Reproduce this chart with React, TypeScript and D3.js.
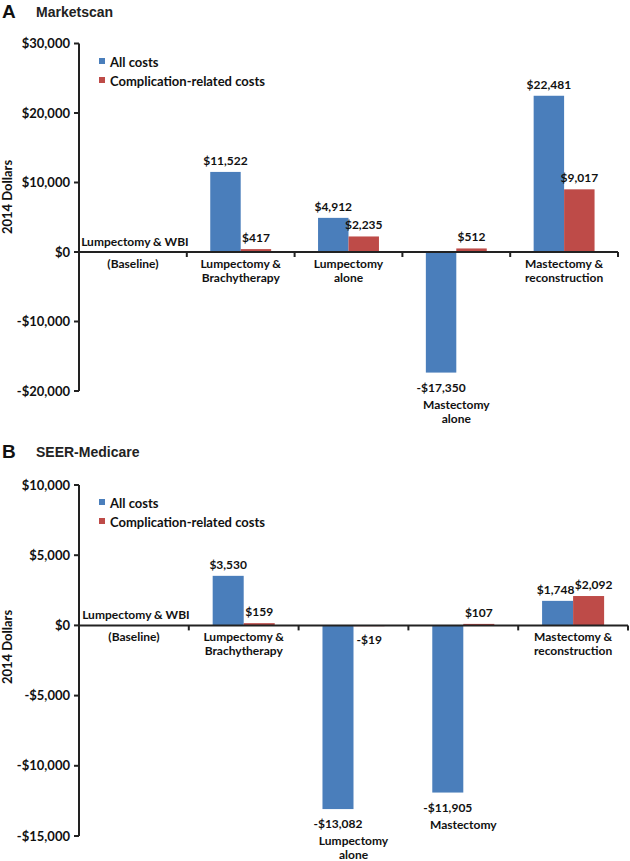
import React from "react";
import * as d3 from "d3";

const categoriesA = [
  ["Lumpectomy & WBI", "(Baseline)"],
  ["Lumpectomy &", "Brachytherapy"],
  ["Lumpectomy", "alone"],
  ["Mastectomy", "alone"],
  ["Mastectomy &", "reconstruction"],
];
const allCostsA = [0, 11522, 4912, -17350, 22481];
const compCostsA = [0, 417, 2235, 512, 9017];
const ticksA = [30000, 20000, 10000, 0, -10000, -20000];

const categoriesB = [
  ["Lumpectomy & WBI", "(Baseline)"],
  ["Lumpectomy &", "Brachytherapy"],
  ["Lumpectomy", "alone"],
  ["Mastectomy"],
  ["Mastectomy &", "reconstruction"],
];
const allCostsB = [0, 3530, -13082, -11905, 1748];
const compCostsB = [0, 159, -19, 107, 2092];
const ticksB = [10000, 5000, 0, -5000, -10000, -15000];

const seriesNames = ["All costs", "Complication-related costs"];
const BLUE = "#4a7ebb";
const RED = "#be4b48";
const FONT = "Lato, 'Open Sans', sans-serif";

const fmt = (v: number) => {
  const s = d3.format(",")(Math.abs(v));
  return (v < 0 ? "-$" : "$") + s;
};

type PanelProps = {
  letter: string;
  title: string;
  categories: string[][];
  all: number[];
  comp: number[];
  ticks: number[];
  yDomain: [number, number];
  yRange: [number, number];
  xRange: [number, number];
  titleY: number;
  legendY: number;
  yTitleY: number;
};

function Panel(p: PanelProps) {
  const x = d3
    .scaleBand<number>()
    .domain(p.categories.map((_, i) => i))
    .range(p.xRange)
    .paddingInner(0)
    .paddingOuter(0);
  const bw = x.bandwidth();
  const sub = d3
    .scaleBand<number>()
    .domain([0, 1])
    .range([bw * 0.2175, bw * 0.7825])
    .padding(0);
  const y = d3.scaleLinear().domain(p.yDomain).range(p.yRange);
  const y0 = y(0);
  const series = [p.all, p.comp];
  const colors = [BLUE, RED];
  const axisX = p.xRange[0];

  return (
    <g>
      <text x={2} y={p.titleY} fontFamily="Arial, 'Liberation Sans', sans-serif" fontWeight="bold" fontSize={19} fill="#111">
        {p.letter}
      </text>
      <text x={36} y={p.titleY - 1} fontFamily="Arial, 'Liberation Sans', sans-serif" fontWeight="bold" fontSize={14} fill="#222">
        {p.title}
      </text>
      {seriesNames.map((n, i) => (
        <g key={n}>
          <rect x={99} y={p.legendY + i * 19 - 4} width={6} height={6} fill={colors[i]} />
          <text x={110} y={p.legendY + i * 19 + 4.5} fontFamily={FONT} fontWeight="bold" fontSize={13} fill="#111">
            {n}
          </text>
        </g>
      ))}
      <text
        transform={`translate(12,${p.yTitleY}) rotate(-90)`}
        textAnchor="middle"
        fontFamily={FONT}
        fontWeight="bold"
        fontSize={13}
        fill="#111"
      >
        2014 Dollars
      </text>
      {series.map((vals, si) =>
        vals.map((v, ci) => {
          if (v === 0) return null;
          const bx = (x(ci) as number) + (sub(si) as number);
          const top = Math.min(y(v), y0);
          const h = Math.max(Math.abs(y(v) - y0), 0.8);
          return <rect key={`${si}-${ci}`} x={bx} y={top} width={sub.bandwidth()} height={h} fill={colors[si]} />;
        })
      )}
      {series.map((vals, si) =>
        vals.map((v, ci) => {
          if (v === 0) return null;
          const cx = (x(ci) as number) + (sub(si) as number) + sub.bandwidth() / 2;
          let ly: number;
          let lx = cx;
          let anchor: "middle" | "start" = "middle";
          if (v > 0) {
            ly = y(v) - 7;
            const other = series[1 - si][ci];
            if (other > 0 && Math.abs(y(other) - y(v)) < 12) lx += si === 0 ? -2 : 5;
          } else if (y(v) - y0 > 10) ly = y(v) + 19;
          else {
            ly = y0 + 19;
            lx = (x(ci) as number) + (sub(si) as number) + 3;
            anchor = "start";
          }
          return (
            <text key={`l${si}-${ci}`} x={lx} y={ly} textAnchor={anchor} fontFamily={FONT} fontWeight="bold" fontSize={12} fill="#111">
              {fmt(v)}
            </text>
          );
        })
      )}
      <line x1={axisX} x2={axisX} y1={y(p.yDomain[1])} y2={y(p.yDomain[0])} stroke="#222" strokeWidth={2} />
      {p.ticks.map((t) => (
        <g key={t}>
          <line x1={axisX - 5} x2={axisX} y1={y(t)} y2={y(t)} stroke="#222" strokeWidth={2} />
          <text x={axisX - 9} y={y(t) + 4.5} textAnchor="end" fontFamily={FONT} fontWeight="bold" fontSize={13} fill="#111">
            {fmt(t)}
          </text>
        </g>
      ))}
      <line x1={axisX} x2={p.xRange[1]} y1={y0} y2={y0} stroke="#222" strokeWidth={2} />
      {p.categories.map((_, i) => (
        <line key={i} x1={(x(i) as number) + bw} x2={(x(i) as number) + bw} y1={y0} y2={y0 + 5} stroke="#222" strokeWidth={2} />
      ))}
      {p.categories.map((lines, ci) => {
        const cx = (x(ci) as number) + bw / 2;
        const v = p.all[ci];
        let ys: number[];
        if (v === 0) ys = [y0 - 6, y0 + 16];
        else if (v < 0 && y(v) - y0 > 40) ys = [y(v) + 36, y(v) + 50];
        else ys = [y0 + 16, y0 + 30];
        return lines.map((ln, li) => (
          <text key={`c${ci}-${li}`} x={cx + (v === 0 && li === 0 ? 2 : 0)} y={ys[li]} textAnchor="middle" fontFamily={FONT} fontWeight="bold" fontSize={12} fill="#111">
            {ln}
          </text>
        ));
      })}
    </g>
  );
}

export default function App() {
  return (
    <svg width={630} height={861} style={{ display: "block", position: "absolute", left: 0, top: 0, background: "#fff" }}>
      <rect width={630} height={861} fill="#fff" />
      <Panel
        letter="A"
        title="Marketscan"
        categories={categoriesA}
        all={allCostsA}
        comp={compCostsA}
        ticks={ticksA}
        yDomain={[-20000, 30000]}
        yRange={[391, 43.5]}
        xRange={[79, 618]}
        titleY={18}
        legendY={62}
        yTitleY={197}
      />
      <Panel
        letter="B"
        title="SEER-Medicare"
        categories={categoriesB}
        all={allCostsB}
        comp={compCostsB}
        ticks={ticksB}
        yDomain={[-15000, 10000]}
        yRange={[836, 485]}
        xRange={[79, 628]}
        titleY={458}
        legendY={503}
        yTitleY={647}
      />
    </svg>
  );
}
